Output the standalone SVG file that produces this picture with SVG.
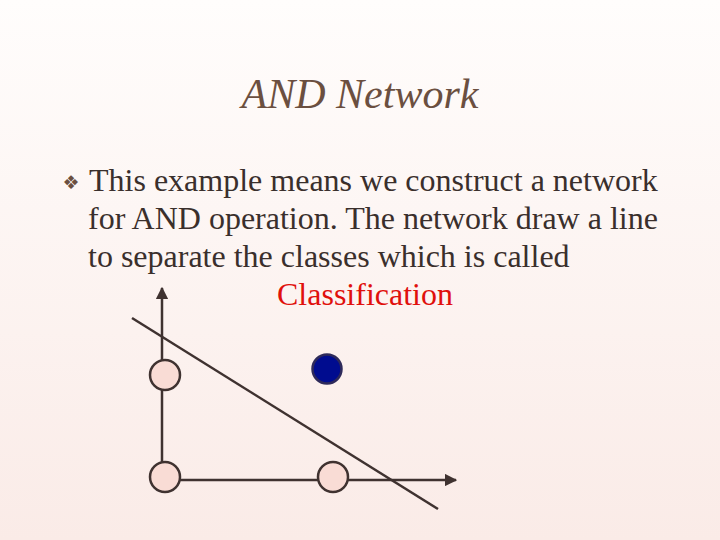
<svg xmlns="http://www.w3.org/2000/svg" width="720" height="540" viewBox="0 0 720 540">
<defs>
<linearGradient id="bg" x1="0" y1="0" x2="0" y2="1">
<stop offset="0" stop-color="#fffdfc"/>
<stop offset="1" stop-color="#faebe7"/>
</linearGradient>
<marker id="arr" viewBox="0 0 10 10" refX="9" refY="5" markerWidth="5" markerHeight="5" orient="auto" markerUnits="strokeWidth">
<path d="M0,0 L10,5 L0,10 z" fill="#3f3230"/>
</marker>
<style>
.title{font-family:"Liberation Serif",serif;font-style:italic;font-size:42px;fill:#6b4f40}
.body{font-family:"Liberation Serif",serif;font-size:32px;fill:#3a2f2c}
.red{fill:#e0100c}
.ln{stroke:#3f3230;stroke-width:2.5;fill:none}
.node{fill:#f9dcd5;stroke:#3f3230;stroke-width:2.5}
.blue{fill:#000c8f;stroke:#2e2a5a;stroke-width:2.5}
</style>
</defs>
<rect width="720" height="540" fill="url(#bg)"/>
<text class="title" x="360" y="108" text-anchor="middle">AND Network</text>
<text x="71" y="189" font-family="DejaVu Sans,sans-serif" font-size="19" fill="#6b4f40" text-anchor="middle">❖</text>
<text class="body" x="89" y="191">This example means we construct a network</text>
<text class="body" x="88" y="229">for AND operation. The network draw a line</text>
<text class="body" x="88" y="267">to separate the classes which is called</text>
<text class="body red" x="277" y="305">Classification</text>
<g id="connectors">
<line class="ln" x1="162" y1="477" x2="162" y2="288" marker-end="url(#arr)"/>
<line class="ln" x1="165" y1="480" x2="456" y2="480" marker-end="url(#arr)"/>
<line class="ln" x1="132" y1="318" x2="438" y2="509"/>
</g>
<g id="n1"><circle class="node" cx="165" cy="375" r="15"/></g>
<g id="n2"><circle class="node" cx="165" cy="477" r="15"/></g>
<g id="n3"><circle class="node" cx="333" cy="477" r="15"/></g>
<g id="n4"><circle class="blue" cx="327" cy="369" r="14.5"/></g>
</svg>
